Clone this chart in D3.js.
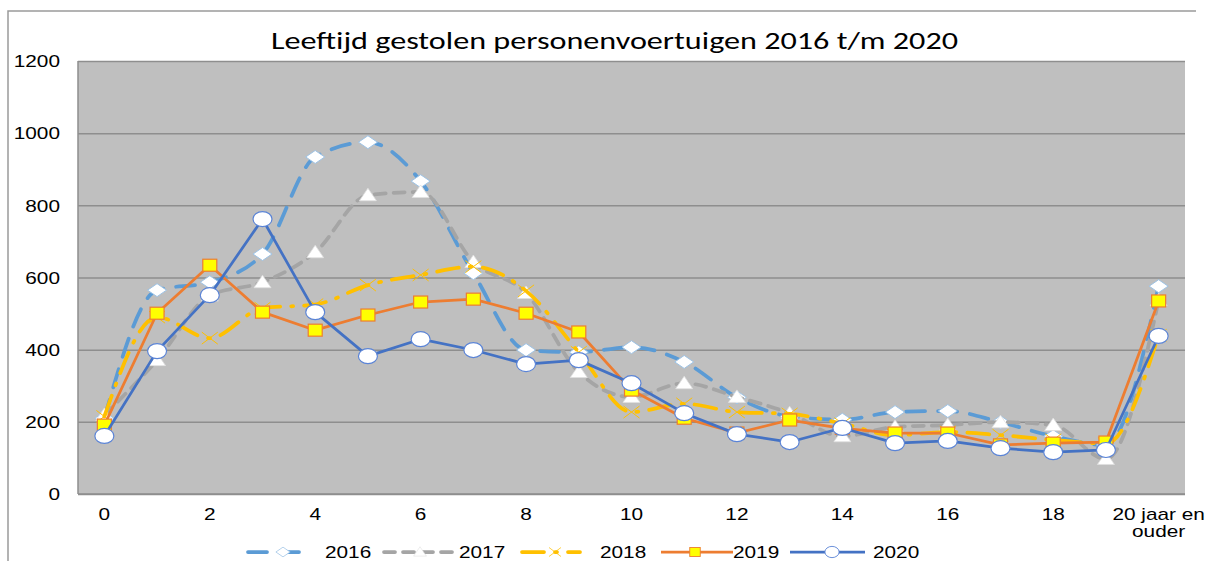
<!DOCTYPE html>
<html lang="nl">
<head>
<meta charset="UTF-8">
<title>Leeftijd gestolen personenvoertuigen</title>
<style>
  * { margin: 0; padding: 0; }
  body { background: #fff; width: 1208px; height: 561px; overflow: hidden; font-family: "Liberation Sans", Arial, sans-serif; }
  svg { display: block; }
  .tick-label { font-size: 16px; fill: #000; }
  .title { font-family: Carlito, "Open Sans", "Noto Sans", sans-serif; font-size: 24px; fill: #000; }
</style>
</head>
<body>
<svg id="chart" width="1208" height="561"></svg>
<script src="https://d3js.org/d3.v7.min.js"></script>
<script>
// categories (age of stolen car in years)
const ages = ['0','1','2','3','4','5','6','7','8','9','10','11','12','13','14','15','16','17','18','19','20 jaar en ouder'];
const yTicks = [0, 200, 400, 600, 800, 1000, 1200];

// values
const s2016 = [210, 565, 587, 665, 934, 975, 867, 612, 399, 393, 407, 366, 268, 215, 206, 227, 230, 199, 160, 136, 576];
const s2017 = [219, 371, 550, 587, 670, 828, 837, 643, 557, 338, 269, 307, 269, 224, 160, 186, 191, 199, 191, 97, 537];
const s2018 = [215, 490, 432, 515, 525, 579, 607, 630, 563, 393, 227, 250, 227, 222, 195, 163, 172, 163, 150, 140, 440];
const s2019 = [191, 501, 634, 504, 454, 496, 532, 540, 501, 449, 288, 210, 169, 205, 182, 169, 169, 136, 141, 144, 535];
const s2020 = [161, 396, 551, 762, 504, 382, 429, 399, 360, 371, 307, 224, 166, 144, 183, 141, 147, 127, 116, 122, 438];

const series = [
  { name: '2016', values: s2016, color: '#5B9BD5', width: 3.75, dash: '19,13', smooth: true, marker: 'diamond' },
  { name: '2017', values: s2017, color: '#A5A5A5', width: 3.75, dash: '11,8', smooth: true, marker: 'triangle' },
  { name: '2018', values: s2018, color: '#FFC000', width: 3.75, dash: '22,11,2,11', smooth: true, marker: 'x' },
  { name: '2019', values: s2019, color: '#ED7D31', width: 2.75, dash: null, smooth: false, marker: 'square' },
  { name: '2020', values: s2020, color: '#4472C4', width: 2.75, dash: null, smooth: false, marker: 'circle' }
];

const svg = d3.select('#chart');
const plot = { left: 78, right: 1185, top: 61, bottom: 494 };
const SX = 1.3; // the picture is stretched sideways

// outer chart border
svg.append('path').attr('d', 'M8,561V11H1196').attr('fill', 'none').attr('stroke', '#9a9a9a').attr('stroke-width', 1.5);

svg.append('text').attr('class', 'title')
  .attr('x', 271).attr('y', 49)
  .attr('textLength', 687).attr('lengthAdjust', 'spacingAndGlyphs')
  .text('Leeftijd gestolen personenvoertuigen 2016 t/m 2020');

const x = d3.scaleBand().domain(ages).range([plot.left, plot.right]).paddingInner(0).paddingOuter(0);
const cx = d => x(d) + x.bandwidth() / 2;
const y = d3.scaleLinear().domain([0, 1200]).range([plot.bottom, plot.top]);

svg.append('rect')
  .attr('x', plot.left).attr('y', plot.top)
  .attr('width', plot.right - plot.left).attr('height', plot.bottom - plot.top)
  .attr('fill', '#BFBFBF');

// gridlines + y labels
const yAxis = svg.append('g').attr('transform', `translate(${plot.left},0)`)
  .call(d3.axisLeft(y).tickValues(yTicks).tickSize(-(plot.right - plot.left)).tickPadding(0));
yAxis.select('.domain').remove();
yAxis.selectAll('.tick line').attr('stroke', '#8E8E8E').attr('stroke-width', 1.5);
yAxis.selectAll('.tick text').remove();
yAxis.selectAll('.tick').append('text')
  .attr('class', 'tick-label')
  .attr('text-anchor', 'end').attr('dy', '0.36em')
  .attr('transform', `translate(-18,0) scale(${SX},1)`)
  .text(d => d);

// axis lines
svg.append('line').attr('x1', plot.left).attr('x2', plot.left).attr('y1', plot.top).attr('y2', plot.bottom)
  .attr('stroke', '#8E8E8E').attr('stroke-width', 1.5);
svg.append('line').attr('x1', plot.left).attr('x2', plot.right).attr('y1', plot.bottom).attr('y2', plot.bottom)
  .attr('stroke', '#8E8E8E').attr('stroke-width', 1.5);

// x labels: only every other category
const xl = svg.append('g');
ages.forEach((a, i) => {
  if (i % 2 !== 0) return;
  const lines = a === '20 jaar en ouder' ? ['20 jaar en', 'ouder'] : [a];
  lines.forEach((t, j) => {
    xl.append('text').attr('class', 'tick-label')
      .attr('text-anchor', 'middle')
      .attr('transform', `translate(${cx(a)},${520 + j * 17}) scale(${SX},1)`)
      .text(t);
  });
});

function drawMarker(g, type, s) {
  if (type === 'diamond') {
    g.append('path').attr('d', 'M0,-6.5L9.5,0L0,6.5L-9.5,0Z').attr('fill', '#fff').attr('stroke', '#9DC3E6').attr('stroke-width', 1);
  } else if (type === 'triangle') {
    g.append('path').attr('d', 'M0,-7L8.5,5.5L-8.5,5.5Z').attr('fill', '#fff').attr('stroke', '#E0E0E0').attr('stroke-width', 0.8);
  } else if (type === 'x') {
    g.append('path').attr('d', 'M-8,-6L8,6M-8,6L8,-6').attr('stroke', s.color).attr('stroke-width', 1);
  } else if (type === 'square') {
    g.append('rect').attr('x', -7).attr('y', -6).attr('width', 14).attr('height', 12)
      .attr('fill', '#FFFF00').attr('stroke', s.color).attr('stroke-width', 1.2);
  } else if (type === 'circle') {
    g.append('ellipse').attr('rx', 9.5).attr('ry', 7.5).attr('fill', '#fff').attr('stroke', '#5B84D6').attr('stroke-width', 1.2);
  }
}

series.forEach(s => {
  const line = d3.line()
    .x((d, i) => cx(ages[i]))
    .y(d => y(d))
    .curve(s.smooth ? d3.curveMonotoneX : d3.curveLinear);
  const g = svg.append('g');
  g.append('path').datum(s.values)
    .attr('d', line).attr('fill', 'none')
    .attr('stroke', s.color).attr('stroke-width', s.width)
    .attr('stroke-dasharray', s.dash).attr('stroke-linecap', s.dash ? 'round' : 'butt')
    .attr('stroke-linejoin', 'round');
  s.values.forEach((v, i) => {
    drawMarker(g.append('g').attr('transform', `translate(${cx(ages[i])},${y(v)})`), s.marker, s);
  });
});

// legend
const legendPos = [
  { sx: 248, ex: 303, mx: 283, tx: 325 },
  { sx: 384, ex: 458, mx: 420, tx: 459 },
  { sx: 522, ex: 580, mx: 555, tx: 600 },
  { sx: 661, ex: 733, mx: 695, tx: 733 },
  { sx: 790, ex: 865, mx: 832, tx: 873 }
];
const ly = 552;
series.forEach((s, i) => {
  const p = legendPos[i];
  const g = svg.append('g');
  g.append('line').attr('x1', p.sx).attr('x2', p.ex).attr('y1', ly).attr('y2', ly)
    .attr('stroke', s.color).attr('stroke-width', s.width)
    .attr('stroke-dasharray', s.dash).attr('stroke-linecap', s.dash ? 'round' : 'butt');
  drawMarker(g.append('g').attr('transform', `translate(${p.mx},${ly}) scale(0.75)`), s.marker, s);
  g.append('text').attr('class', 'tick-label')
    .attr('transform', `translate(${p.tx},${ly + 6}) scale(${SX},1)`)
    .text(s.name);
});
</script>
</body>
</html>
